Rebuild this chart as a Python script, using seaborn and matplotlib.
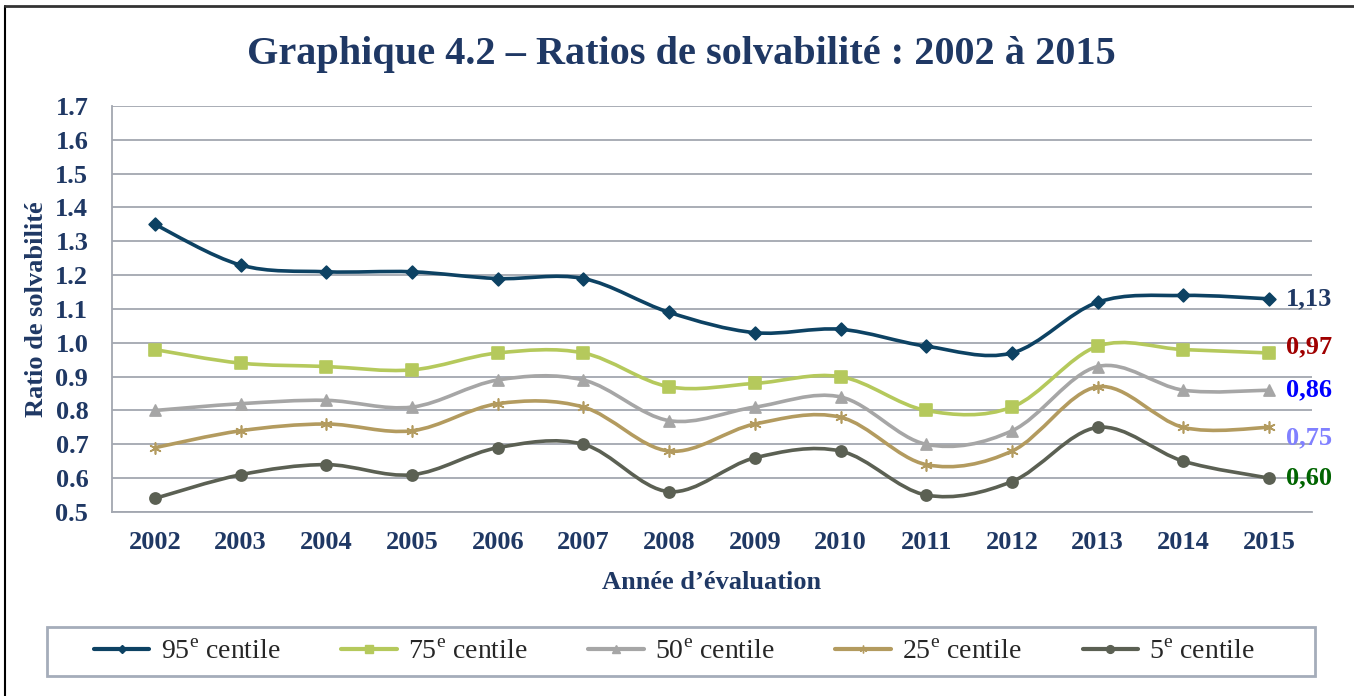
import numpy as np
import pandas as pd
import seaborn as sns
import matplotlib.pyplot as plt
from matplotlib.path import Path
from matplotlib.patches import PathPatch, Rectangle
from matplotlib.lines import Line2D

annees = ["2002", "2003", "2004", "2005", "2006", "2007", "2008",
          "2009", "2010", "2011", "2012", "2013", "2014", "2015"]
c95 = [1.35, 1.23, 1.21, 1.21, 1.19, 1.19, 1.09, 1.03, 1.04, 0.99, 0.97, 1.12, 1.14, 1.13]
c75 = [0.98, 0.94, 0.93, 0.92, 0.97, 0.97, 0.87, 0.88, 0.90, 0.80, 0.81, 0.99, 0.98, 0.97]
c50 = [0.80, 0.82, 0.83, 0.81, 0.89, 0.89, 0.77, 0.81, 0.84, 0.70, 0.74, 0.93, 0.86, 0.86]
c25 = [0.69, 0.74, 0.76, 0.74, 0.82, 0.81, 0.68, 0.76, 0.78, 0.64, 0.68, 0.87, 0.75, 0.75]
c05 = [0.54, 0.61, 0.64, 0.61, 0.69, 0.70, 0.56, 0.66, 0.68, 0.55, 0.59, 0.75, 0.65, 0.60]
noms = ["95$^{\\mathrm{e}}$ centile", "75$^{\\mathrm{e}}$ centile", "50$^{\\mathrm{e}}$ centile",
        "25$^{\\mathrm{e}}$ centile", "5$^{\\mathrm{e}}$ centile"]
etiquettes = ["1,13", "0,97", "0,86", "0,75", "0,60"]

couleurs = ["#0d4263", "#b5c95c", "#a6a6a6", "#b39b5f", "#5b6053"]
marqueurs = ["D", "s", "^", (6, 2, 0), "o"]
tailles = [6.5, 8, 8, 8, 8]
coul_etiq = ["#1f3864", "#a00000", "#0000ff", "#8080ff", "#006400"]
decal_etiq = [0.0, 0.018, 0.0, -0.03, 0.0]
navy = "#1f3864"
grille = "#a3a7b0"

series = [c95, c75, c50, c25, c05]

sns.set_theme(style="white")
plt.rcParams["font.family"] = ["Liberation Serif", "DejaVu Serif"]
plt.rcParams["mathtext.fontset"] = "custom"
plt.rcParams["mathtext.rm"] = "Liberation Serif"

fig = plt.figure(figsize=(13.54, 6.96), dpi=100)
ax = fig.add_axes([0.0827, 0.2644, 0.8863, 0.5833])

x = np.arange(len(annees))


def courbe_lisse(xs, ys):
    pts = np.column_stack([xs, ys])
    n = len(pts)
    verts = [pts[0]]
    codes = [Path.MOVETO]
    for i in range(n - 1):
        p0 = pts[i - 1] if i > 0 else pts[i]
        p3 = pts[i + 2] if i + 2 < n else pts[i + 1]
        c1 = pts[i] + (pts[i + 1] - p0) / 6
        c2 = pts[i + 1] - (p3 - pts[i]) / 6
        verts += [c1, c2, pts[i + 1]]
        codes += [Path.CURVE4] * 3
    return Path(verts, codes)


poignees = []
for vals, nom, col, mk, ms, lab, lc, dy in zip(series, noms, couleurs, marqueurs, tailles,
                                                etiquettes, coul_etiq, decal_etiq):
    ax.add_patch(PathPatch(courbe_lisse(x, vals), facecolor="none", edgecolor=col,
                           lw=2.6, capstyle="round", zorder=3))
    df = pd.DataFrame({"x": x, "y": vals})
    sns.scatterplot(data=df, x="x", y="y", marker=mk, s=ms ** 2, color=col,
                    edgecolor=col, linewidth=1.2, ax=ax, zorder=4, legend=False)
    ax.text(13.2, vals[-1] + dy, lab, color=lc, fontsize=19, fontweight="bold",
            ha="left", va="center", zorder=5)
    poignees.append(Line2D([], [], color=col, lw=3, marker=mk, markersize=ms * 0.7,
                           markeredgecolor=col, label=nom))

ax.set_xlim(-0.5, 13.5)
ax.set_ylim(0.5, 1.7)
yt = np.round(np.arange(0.5, 1.71, 0.1), 1)
ax.set_yticks(yt)
ax.set_yticklabels([f"{v:.1f}" for v in yt])
ax.set_xticks(x)
ax.set_xticklabels(annees)
ax.yaxis.grid(True, color=grille, lw=1.3)
ax.xaxis.grid(False)
ax.tick_params(axis="y", length=0, pad=17, labelsize=19, labelcolor=navy)
ax.tick_params(axis="x", length=0, pad=14, labelsize=19, labelcolor=navy)
for t in ax.get_xticklabels() + ax.get_yticklabels():
    t.set_fontweight("bold")
for s in ["top", "right"]:
    ax.spines[s].set_visible(False)
for s in ["left", "bottom"]:
    ax.spines[s].set_color(grille)
    ax.spines[s].set_linewidth(1.3)

ax.set_xlabel("Année d’évaluation", fontsize=19, fontweight="bold", color=navy, labelpad=12)
ax.set_ylabel("Ratio de solvabilité", fontsize=19, fontweight="bold", color=navy, labelpad=5)

fig.text(0.503, 0.922, "Graphique 4.2 – Ratios de solvabilité : 2002 à 2015",
         ha="center", va="center", fontsize=29, fontweight="bold", color=navy)

fig.add_artist(Rectangle((0.0347, 0.0287), 0.9365, 0.0704, transform=fig.transFigure,
                         facecolor="white", edgecolor="#a5adba", lw=2, zorder=1))
leg = fig.legend(handles=poignees, loc="center", ncol=5, bbox_to_anchor=(0.498, 0.0635),
                 fontsize=20, frameon=False, handlelength=2.0, handletextpad=0.4,
                 columnspacing=2.2, borderaxespad=0)
leg.set_zorder(2)

fig.add_artist(Line2D([0.004, 0.004], [0.0, 0.992], transform=fig.transFigure,
                      color="black", lw=1.5))
fig.add_artist(Line2D([0.004, 1.0], [0.992, 0.992], transform=fig.transFigure,
                      color="#333333", lw=2))

fig.savefig("out.png", dpi=100)
